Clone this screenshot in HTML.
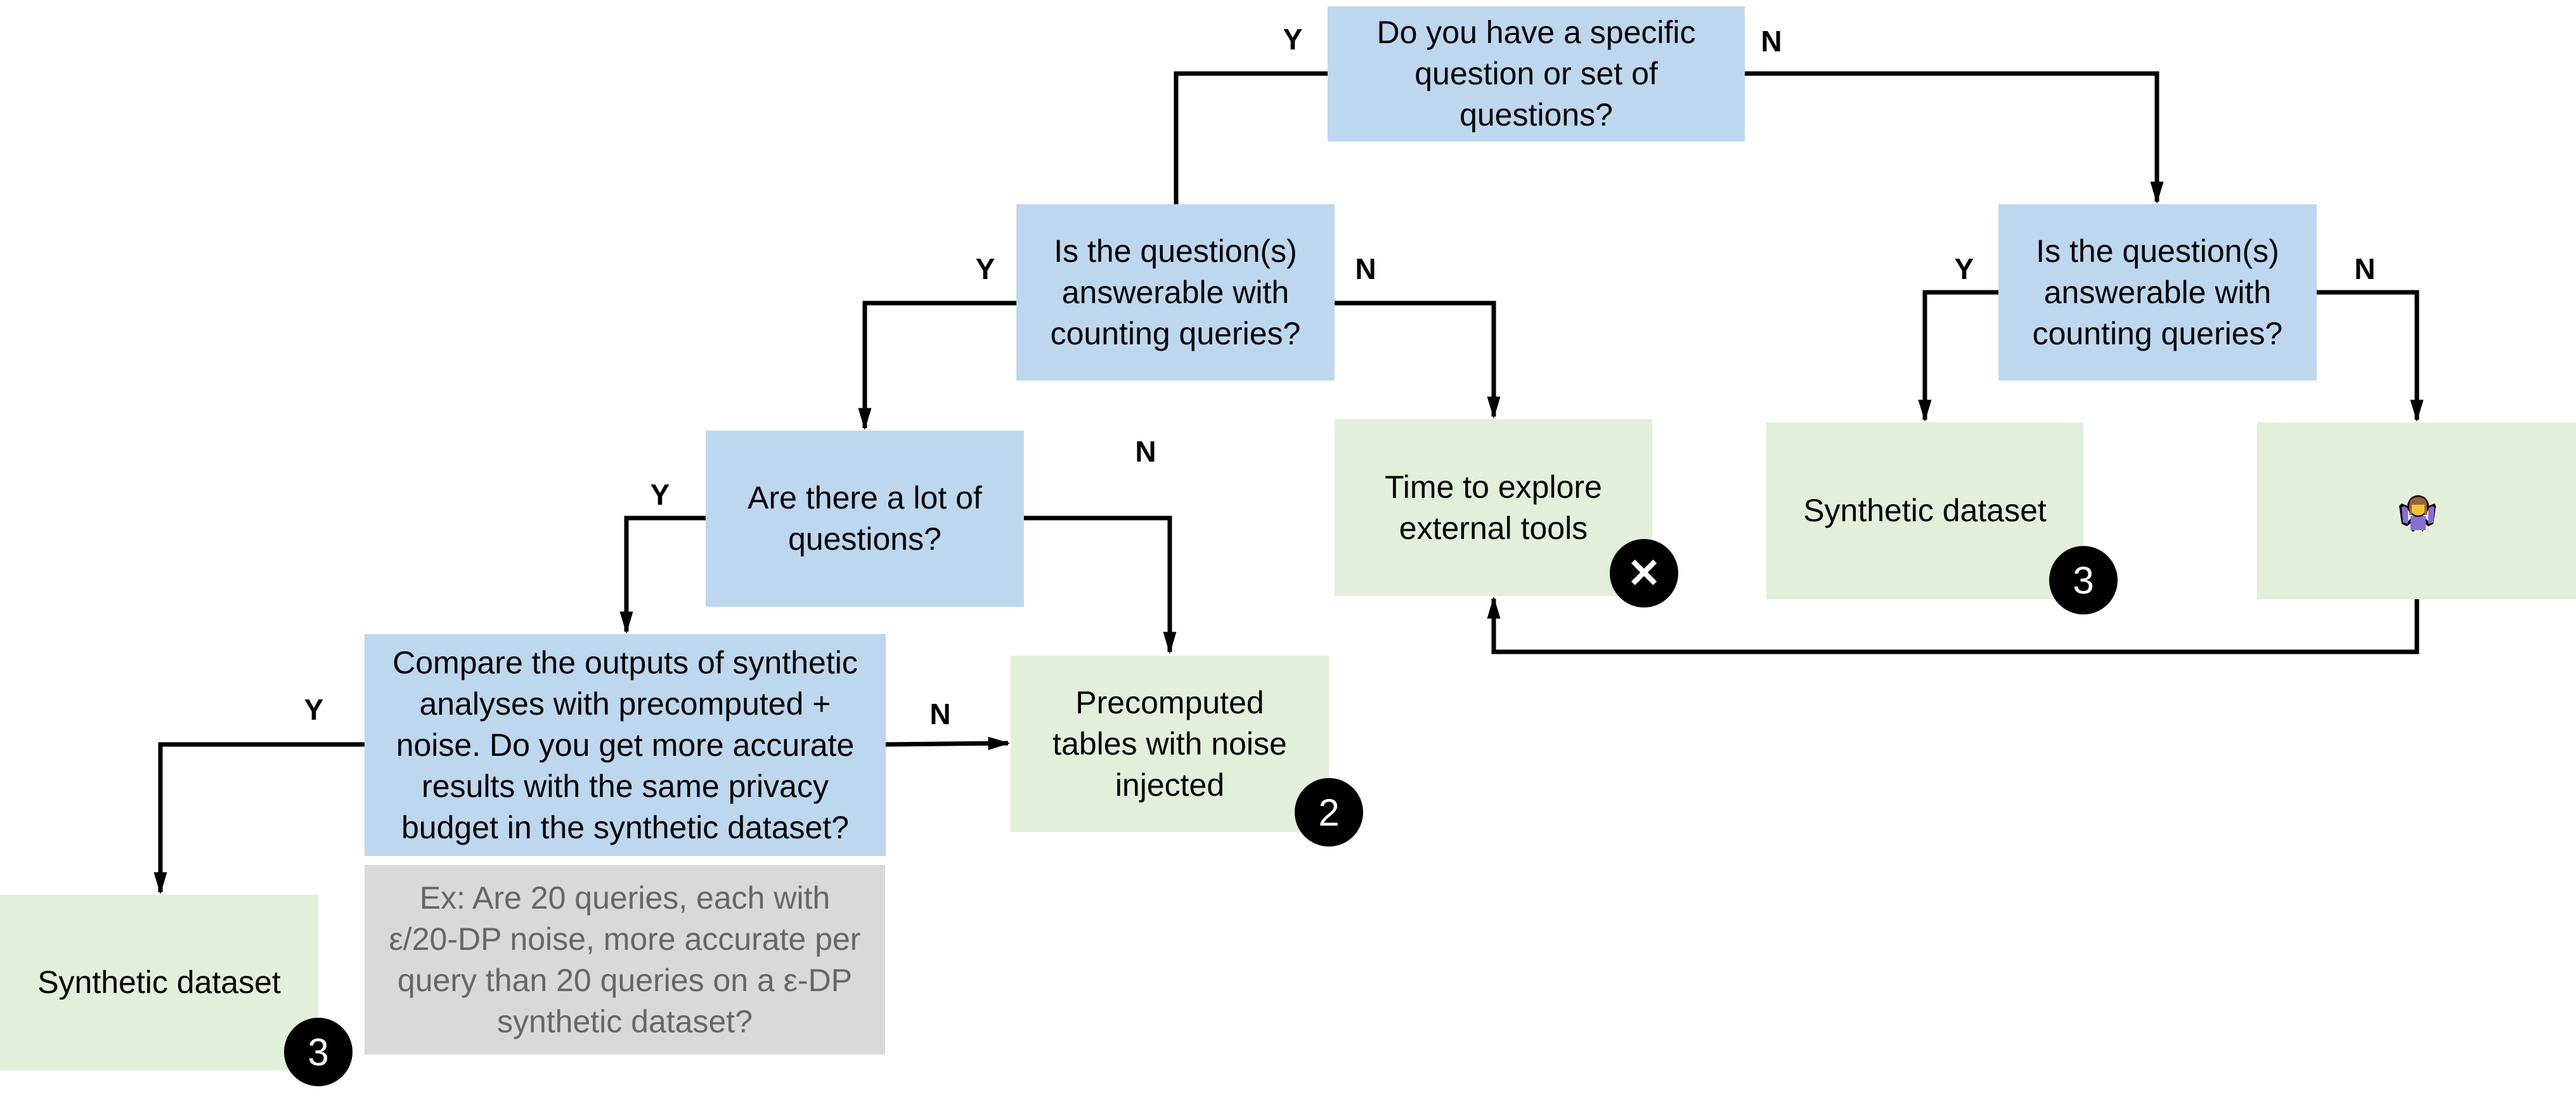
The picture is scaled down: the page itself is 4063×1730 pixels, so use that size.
<!DOCTYPE html>
<html><head><meta charset="utf-8"><style>
html,body{margin:0;padding:0;background:#fff;}
body{width:4063px;height:1730px;position:relative;overflow:hidden;font-family:"Liberation Sans Narrow","Liberation Sans",sans-serif;}
.b{position:absolute;display:flex;align-items:center;justify-content:center;text-align:center;font-size:50px;line-height:65px;color:#000;box-sizing:border-box;padding:0 20px;}
.q{background:#bdd7ee;}
.g{background:#e2efda;}
.x{background:#d9d9d9;color:#666;}
.l{position:absolute;font-weight:bold;font-size:46px;transform:translate(-50%,-50%);font-family:"Liberation Sans Narrow","Liberation Sans",sans-serif;}
.c{position:absolute;border-radius:50%;background:#000;color:#fff;display:flex;align-items:center;justify-content:center;font-size:60px;transform:translate(-50%,-50%);width:108px;height:108px;}
</style></head><body>
<svg width="4063" height="1730" style="position:absolute;left:0;top:0" xmlns="http://www.w3.org/2000/svg">
<defs><marker id="a" markerWidth="5" markerHeight="3" refX="4.5" refY="1.5" orient="auto" markerUnits="strokeWidth"><path d="M0,0 L5,1.5 L0,3 z" fill="#000"/></marker></defs>
<g stroke="#000" stroke-width="7" fill="none">
<polyline points="2094,116 1855,116 1855,322"/>
<polyline points="2752,116 3402,116 3402,318" marker-end="url(#a)"/>
<polyline points="1603,478 1364,478 1364,675" marker-end="url(#a)"/>
<polyline points="2105,478 2356,478 2356,657" marker-end="url(#a)"/>
<polyline points="3152,461 3036,461 3036,662" marker-end="url(#a)"/>
<polyline points="3654,461 3812,461 3812,662" marker-end="url(#a)"/>
<polyline points="3812,945 3812,1028 2356,1028 2356,944" marker-end="url(#a)"/>
<polyline points="1113,817 988,817 988,996" marker-end="url(#a)"/>
<polyline points="1615,817 1845,817 1845,1028" marker-end="url(#a)"/>
<polyline points="1397,1174 1590,1172" marker-end="url(#a)"/>
<polyline points="575,1174 253,1174 253,1407" marker-end="url(#a)"/>
</g></svg>
<div class="b q" style="left:2094px;top:10px;width:658px;height:213px">Do you have a specific<br>question or set of<br>questions?</div>
<div class="b q" style="left:1603px;top:322px;width:502px;height:278px">Is the question(s)<br>answerable with<br>counting queries?</div>
<div class="b q" style="left:3152px;top:322px;width:502px;height:278px">Is the question(s)<br>answerable with<br>counting queries?</div>
<div class="b g" style="left:2105px;top:661px;width:501px;height:279px">Time to explore<br>external tools</div>
<div class="b g" style="left:2786px;top:666px;width:500px;height:279px">Synthetic dataset</div>
<div class="b g" style="left:3560px;top:666px;width:503px;height:279px"></div>
<svg style="position:absolute;left:3780px;top:778px" width="66" height="62" viewBox="0 0 66 62">
<path d="M8,16 L18,20 L18,44 L28,34 L28,60 L40,60 L40,34 L50,44 L50,20 L60,16 L62,20 L58,48 L50,52 L42,46 L42,60 L24,60 L24,46 L16,52 L8,48 L4,20z" fill="#000"/>
<path d="M12,20 L18,24 L18,48 L10,46 L8,22z M56,20 L50,24 L50,48 L58,46 L60,22z M22,36 L46,36 L46,58 L22,58z" fill="#8a6cdb"/>
<circle cx="34" cy="20" r="17" fill="#000"/><circle cx="34" cy="22" r="13" fill="#f5c33b"/>
<path d="M20,20 Q20,6 34,6 Q48,6 48,20 L48,34 L44,34 L44,18 L24,18 L24,34 L20,34z" fill="#9c6536"/>
</svg>
<div class="b q" style="left:1113px;top:679px;width:502px;height:278px">Are there a lot of<br>questions?</div>
<div class="b q" style="left:575px;top:1000px;width:822px;height:350px;padding:0">Compare the outputs of synthetic<br>analyses with precomputed +<br>noise. Do you get more accurate<br>results with the same privacy<br>budget in the synthetic dataset?</div>
<div class="b x" style="left:575px;top:1364px;width:821px;height:299px;padding:0">Ex: Are 20 queries, each with<br>ε/20-DP noise, more accurate per<br>query than 20 queries on a ε-DP<br>synthetic dataset?</div>
<div class="b g" style="left:1594px;top:1034px;width:502px;height:278px">Precomputed<br>tables with noise<br>injected</div>
<div class="b g" style="left:0;top:1411px;width:502px;height:277px">Synthetic dataset</div>
<div class="c" style="left:2593px;top:904px;font-size:64px;font-weight:bold">✕</div>
<div class="c" style="left:3286px;top:915px">3</div>
<div class="c" style="left:2096px;top:1281px">2</div>
<div class="c" style="left:502px;top:1659px">3</div>
<div class="l" style="left:2039px;top:62px">Y</div>
<div class="l" style="left:2794px;top:65px">N</div>
<div class="l" style="left:1554px;top:424px">Y</div>
<div class="l" style="left:2154px;top:424px">N</div>
<div class="l" style="left:3098px;top:424px">Y</div>
<div class="l" style="left:3730px;top:424px">N</div>
<div class="l" style="left:1041px;top:780px">Y</div>
<div class="l" style="left:1807px;top:712px">N</div>
<div class="l" style="left:495px;top:1119px">Y</div>
<div class="l" style="left:1483px;top:1126px">N</div>
</body></html>
